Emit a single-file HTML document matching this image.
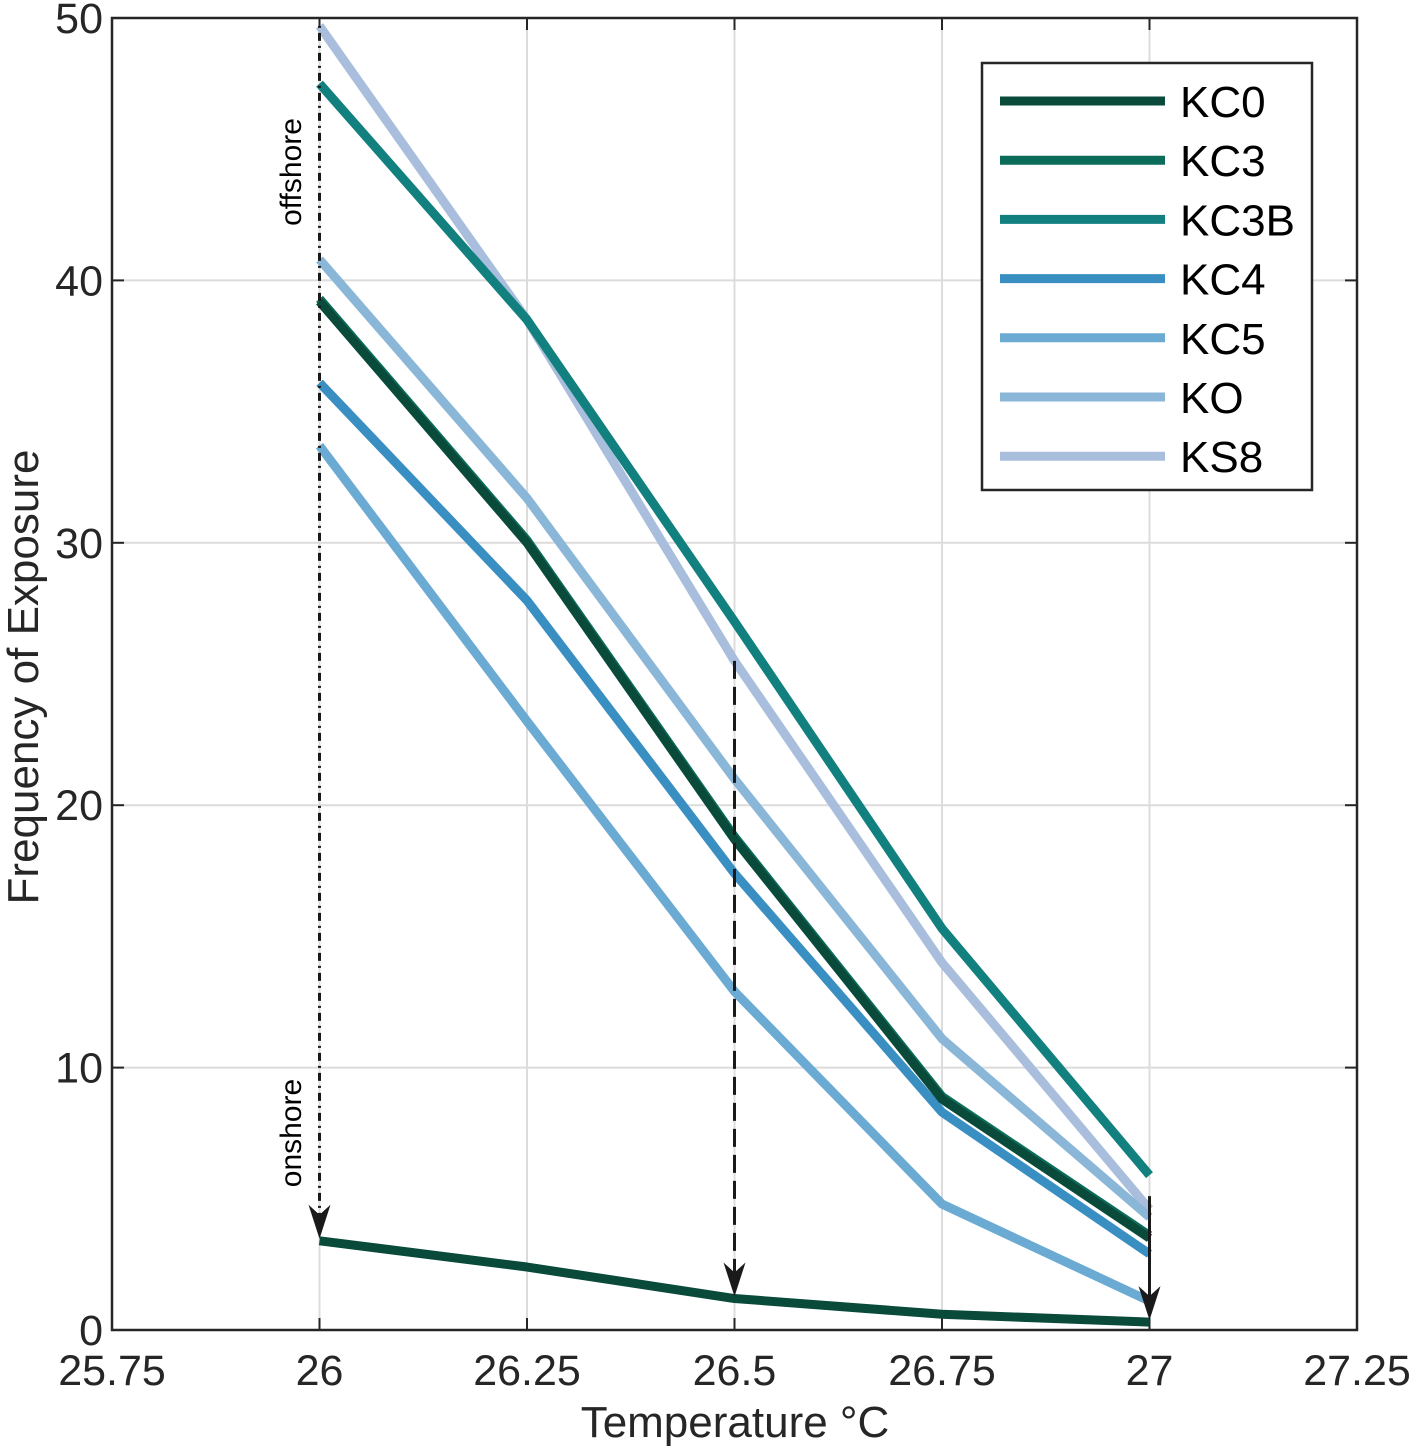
<!DOCTYPE html>
<html><head><meta charset="utf-8"><style>body{margin:0;background:#fff}svg{display:block;font-family:"Liberation Sans",sans-serif}</style></head>
<body>
<svg id="chart" width="1417" height="1453" viewBox="0 0 1417 1453" xmlns="http://www.w3.org/2000/svg"></svg>
<script>
const xTicks=[25.75,26,26.25,26.5,26.75,27,27.25];
const xTickLabels=["25.75","26","26.25","26.5","26.75","27","27.25"];
const yTicks=[0,10,20,30,40,50];
const temps=[26,26.25,26.5,26.75,27];
const seriesNames=["KC0","KC3","KC3B","KC4","KC5","KO","KS8"];
const seriesColors=["#0a4a3b","#0c6c5a","#11807f","#3a8fc2","#6aaad3","#8ab6d8","#a9bedc"];
const kc0=[39.2,30.0,18.7,8.8,3.5];
const kc3=[39.3,30.1,18.8,8.9,3.6];
const kc3b=[47.5,38.5,27.0,15.3,5.9];
const kc4=[36.1,27.8,17.4,8.3,2.9];
const kc5=[33.7,23.2,12.9,4.8,1.1];
const ko=[40.8,31.7,21.0,11.1,4.3];
const ks8=[49.7,38.5,25.5,14.0,4.6];
const onshore=[3.4,2.4,1.2,0.6,0.3];
const seriesValues=[kc0,kc3,kc3b,kc4,kc5,ko,ks8];
const L=112,R=1357,T=18,B=1330;
const X=v=>L+(v-25.75)/1.5*(R-L);
const Y=v=>B-v/50*(B-T);
const svg=document.getElementById('chart');
const NS="http://www.w3.org/2000/svg";
function mk(tag,attrs,parent){const e=document.createElementNS(NS,tag);for(const k in attrs)e.setAttribute(k,attrs[k]);(parent||svg).appendChild(e);return e;}
mk('rect',{x:L,y:T,width:R-L,height:B-T,fill:'#fff'});
xTicks.forEach((t,i)=>{
 const g=mk('line',{x1:X(t),x2:X(t),y1:T,y2:B,stroke:'#dcdcdc','stroke-width':2});
 
 const tx=mk('text',{x:X(t),y:1385,'text-anchor':'middle','font-size':43,fill:'#262626'});tx.textContent=xTickLabels[i];
 
 mk('line',{x1:X(t),x2:X(t),y1:B,y2:B-12,stroke:'#262626','stroke-width':2});
 mk('line',{x1:X(t),x2:X(t),y1:T,y2:T+12,stroke:'#262626','stroke-width':2});
});
yTicks.forEach(t=>{
 const g=mk('line',{x1:L,x2:R,y1:Y(t),y2:Y(t),stroke:'#dcdcdc','stroke-width':2});
 
 const tx=mk('text',{x:103,y:Y(t)+15,'text-anchor':'end','font-size':43,fill:'#262626'});tx.textContent=String(t);
 
 mk('line',{x1:L,x2:L+12,y1:Y(t),y2:Y(t),stroke:'#262626','stroke-width':2});
 mk('line',{x1:R,x2:R-12,y1:Y(t),y2:Y(t),stroke:'#262626','stroke-width':2});
});
function line(vals,color,name){const p=mk('polyline',{points:vals.map((v,i)=>X(temps[i])+','+Y(v)).join(' '),fill:'none',stroke:color,'stroke-width':9,'stroke-linejoin':'round'});
 }
[6,5,4,3,1,0,2].forEach(i=>line(seriesValues[i],seriesColors[i],'line-'+seriesNames[i].toLowerCase()));
line(onshore,seriesColors[0],'line-onshore');
function arrow(x,y1,y2,dash,name){
 const l=mk('line',{x1:x,x2:x,y1:y1,y2:y2-20,stroke:'#1a1a1a','stroke-width':3,'stroke-dasharray':dash});
 
 mk('polygon',{points:`${x-11},${y2-34} ${x},${y2} ${x+11},${y2-34} ${x},${y2-24}`,fill:'#1a1a1a'});
}
arrow(X(26),Y(49.7),Y(3.4)-2,'2 5 8 5','arrow-offshore-onshore');
arrow(X(26.5),Y(25.5),Y(1.2)-2,'18 8','arrow-mid');
arrow(X(27),Y(5.1),Y(0.3)-2,'','arrow-right');
const t1=mk('text',{transform:`translate(301,172) rotate(-90)`,'text-anchor':'middle','font-size':30,fill:'#000'});t1.textContent='offshore';

const t2=mk('text',{transform:`translate(301,1133) rotate(-90)`,'text-anchor':'middle','font-size':30,fill:'#000'});t2.textContent='onshore';

const fr=mk('rect',{x:L,y:T,width:R-L,height:B-T,fill:'none',stroke:'#262626','stroke-width':2.5});

const lg=mk('g',{});
mk('rect',{x:982,y:63,width:330,height:427,fill:'#fff',stroke:'#262626','stroke-width':2.5},lg);
seriesNames.forEach((n,i)=>{const y=101+i*59.2;
 const e=mk('g',{},lg);
 mk('line',{x1:1000,x2:1165,y1:y,y2:y,stroke:seriesColors[i],'stroke-width':9},e);
 const t=mk('text',{x:1180,y:y+16,'font-size':44,fill:'#000'},e);t.textContent=n;});
const xt=mk('text',{x:735,y:1437,'text-anchor':'middle','font-size':44,fill:'#262626'});xt.textContent='Temperature °C';

const yt=mk('text',{transform:'translate(38,677) rotate(-90)','text-anchor':'middle','font-size':44,fill:'#262626'});yt.textContent='Frequency of Exposure';

</script>
</body></html>
